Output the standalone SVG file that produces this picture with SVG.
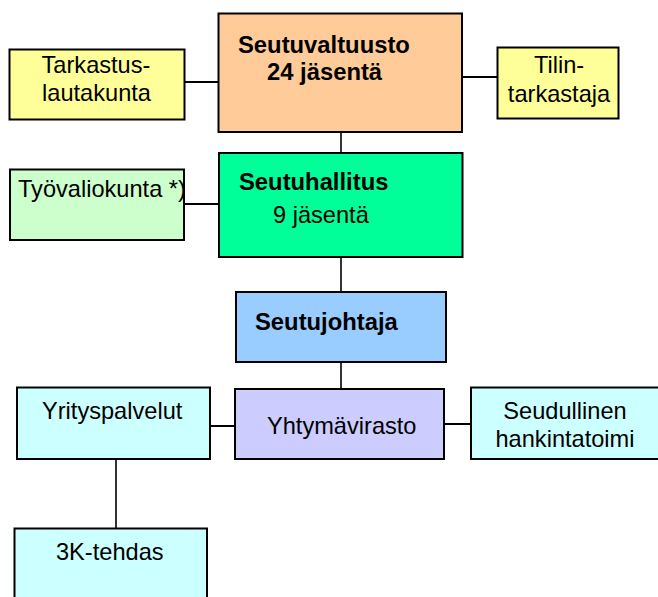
<svg xmlns="http://www.w3.org/2000/svg" width="658" height="597" viewBox="0 0 658 597">
<style>
.box{stroke:#000;stroke-width:2}
.t{font-family:"Liberation Sans",Arial,sans-serif;font-size:23.6px;fill:#000}
.b{font-weight:bold;font-size:23.8px}
.m{text-anchor:middle}
.c line{stroke:#000;stroke-width:2}
</style>
<rect width="658" height="597" fill="#fff"/>
<g class="c" id="connectors">
<line x1="184" y1="82" x2="218" y2="82"/>
<line x1="462" y1="77" x2="497" y2="77"/>
<line x1="341" y1="132" x2="341" y2="153" style="stroke-width:1.6"/>
<line x1="184" y1="204" x2="219" y2="204"/>
<line x1="341" y1="257" x2="341" y2="292" style="stroke-width:1.6"/>
<line x1="341" y1="362" x2="341" y2="389" style="stroke-width:1.6"/>
<line x1="210" y1="426" x2="235" y2="426"/>
<line x1="444" y1="424" x2="471" y2="424"/>
<line x1="116" y1="459" x2="116" y2="528" style="stroke-width:1.6"/>
</g>
<g id="tarkastuslautakunta">
<rect class="box" x="9.5" y="49.5" width="175" height="70" fill="#FFFF99"/>
<text class="t m" x="96" y="73">Tarkastus-</text>
<text class="t m" x="96.5" y="101">lautakunta</text>
</g>
<g id="seutuvaltuusto">
<rect class="box" x="218.5" y="13.5" width="243.5" height="118.5" fill="#FFCC99"/>
<text class="t b" x="238" y="53">Seutuvaltuusto</text>
<text class="t b" x="267" y="80">24 jäsentä</text>
</g>
<g id="tilintarkastaja">
<rect class="box" x="497.5" y="47.5" width="121" height="71" fill="#FFFF99"/>
<text class="t m" x="559" y="73">Tilin-</text>
<text class="t m" x="559" y="102">tarkastaja</text>
</g>
<g id="seutuhallitus">
<rect class="box" x="219" y="153" width="243.5" height="104" fill="#00FF99"/>
<text class="t b" x="239" y="190">Seutuhallitus</text>
<text class="t" x="273" y="223">9 jäsentä</text>
</g>
<g id="tyovaliokunta">
<rect class="box" x="10" y="169.5" width="174" height="70.5" fill="#CCFFCC"/>
<text class="t" x="18" y="197">Työvaliokunta *)</text>
</g>
<g id="seutujohtaja">
<rect class="box" x="236" y="292" width="210" height="70" fill="#99CCFF"/>
<text class="t b" x="255" y="330">Seutujohtaja</text>
</g>
<g id="yhtymavirasto">
<rect class="box" x="235" y="389" width="209" height="70" fill="#CCCCFF"/>
<text class="t" x="267" y="434">Yhtymävirasto</text>
</g>
<g id="yrityspalvelut">
<rect class="box" x="17" y="387.5" width="193" height="71.5" fill="#CCFFFF"/>
<text class="t" x="42" y="419">Yrityspalvelut</text>
</g>
<g id="seudullinen">
<rect class="box" x="471" y="387.5" width="200" height="71.5" fill="#CCFFFF"/>
<text class="t m" x="565" y="419">Seudullinen</text>
<text class="t m" x="565" y="447">hankintatoimi</text>
</g>
<g id="kolmek">
<rect class="box" x="14.5" y="528.5" width="192.5" height="80" fill="#CCFFFF"/>
<text class="t" x="56" y="560">3K-tehdas</text>
</g>
</svg>
